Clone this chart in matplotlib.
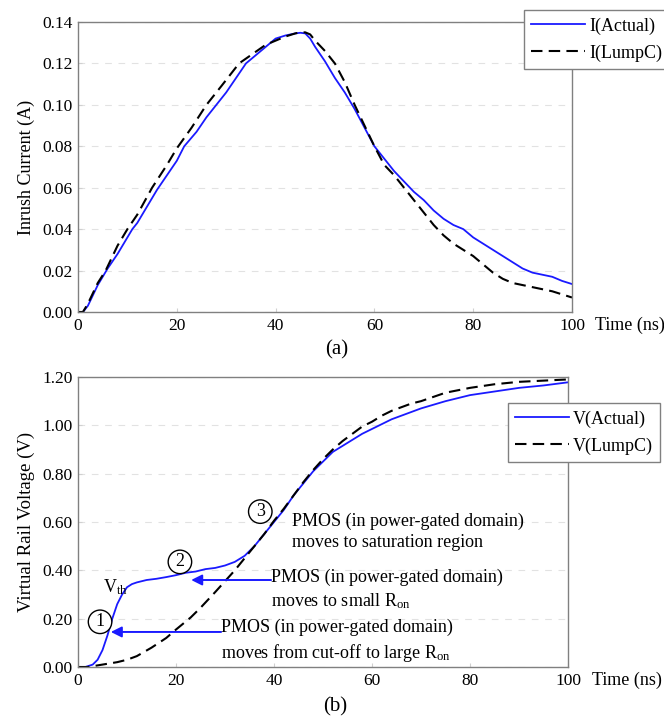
import matplotlib.pyplot as plt

plt.rcParams['font.family'] = ['Liberation Serif', 'DejaVu Serif']
plt.rcParams['mathtext.fontset'] = 'custom'
plt.rcParams['mathtext.rm'] = 'Liberation Serif'
plt.rcParams['mathtext.it'] = 'Liberation Serif'

# (a) inrush current
t_i_act = [0, 1, 2, 3, 4, 5, 6, 8, 10, 11, 12, 14, 16, 18, 20, 21.5, 24, 26, 28, 30, 32, 34,
           36, 38, 39, 40, 42, 44, 45, 46, 47, 48, 50, 52, 54, 56, 58, 60, 62, 64, 66, 68,
           70, 72, 74, 76, 78, 80, 82, 84, 86, 88, 90, 92, 94, 96, 98, 100]
i_act = [0, 0.0, 0.003, 0.008, 0.013, 0.017, 0.021, 0.028, 0.036, 0.040, 0.043, 0.051,
         0.059, 0.066, 0.073, 0.080, 0.087, 0.094, 0.100, 0.106, 0.113, 0.120, 0.124,
         0.128, 0.130, 0.132, 0.1335, 0.1345, 0.1348, 0.1345, 0.132, 0.128, 0.121, 0.113,
         0.106, 0.098, 0.089, 0.080, 0.074, 0.068, 0.063, 0.058, 0.054, 0.049, 0.045,
         0.042, 0.040, 0.036, 0.033, 0.030, 0.027, 0.024, 0.021, 0.019, 0.018, 0.017,
         0.015, 0.0135]
t_i_lump = [0, 1, 2, 3, 4, 5.6, 8, 10, 12, 15, 18, 20, 23, 26, 29, 32.6, 35, 38, 40, 42,
            44, 45, 46, 47, 48, 50, 52, 54, 56, 58, 60, 62, 64, 66, 68, 70, 72, 74, 76,
            78, 80, 82, 84, 86, 88, 90, 92, 94, 96, 98, 100]
i_lump = [0, 0.0, 0.004, 0.009, 0.014, 0.020, 0.032, 0.040, 0.047, 0.060, 0.071, 0.079,
          0.089, 0.100, 0.109, 0.120, 0.124, 0.129, 0.131, 0.133, 0.1345, 0.135, 0.135,
          0.134, 0.131, 0.126, 0.120, 0.111, 0.100, 0.090, 0.080, 0.071, 0.066, 0.060,
          0.054, 0.048, 0.042, 0.037, 0.033, 0.030, 0.027, 0.023, 0.019, 0.016, 0.014,
          0.013, 0.012, 0.011, 0.010, 0.0085, 0.007]

# (b) virtual rail voltage
t_v_act = [0, 1.5, 3, 4, 5, 6, 7, 8, 9, 10, 11, 12, 14, 16, 18, 20, 22, 24, 26, 28, 30,
           32, 34, 36, 38, 40, 42, 44, 46, 48, 50, 52, 54, 56, 58, 60, 62, 64, 66, 68,
           70, 75, 80, 85, 90, 95, 100]
v_act = [0, 0, 0.01, 0.03, 0.07, 0.13, 0.20, 0.26, 0.30, 0.33, 0.343, 0.35, 0.36, 0.365,
         0.372, 0.38, 0.39, 0.395, 0.405, 0.41, 0.42, 0.435, 0.46, 0.50, 0.55, 0.60, 0.65,
         0.71, 0.76, 0.81, 0.85, 0.89, 0.915, 0.94, 0.965, 0.985, 1.005, 1.025, 1.04,
         1.055, 1.07, 1.10, 1.125, 1.14, 1.155, 1.165, 1.178]
t_v_lump = [0, 2, 5, 8, 10, 12, 15, 18, 20, 23, 25, 28, 30, 32, 34, 36, 38, 40, 42, 44,
            46, 48, 50, 52, 54, 56, 58, 60, 62, 64, 66, 68, 70, 75, 80, 85, 90, 95, 100]
v_lump = [0, 0, 0.01, 0.02, 0.03, 0.045, 0.08, 0.12, 0.155, 0.205, 0.245, 0.31, 0.355,
          0.40, 0.45, 0.50, 0.55, 0.605, 0.655, 0.71, 0.765, 0.815, 0.86, 0.90, 0.935,
          0.965, 0.995, 1.015, 1.04, 1.06, 1.075, 1.09, 1.10, 1.135, 1.155, 1.17, 1.18,
          1.185, 1.19]

x_ticks = [0, 20, 40, 60, 80, 100]
i_ticks = [0.00, 0.02, 0.04, 0.06, 0.08, 0.10, 0.12, 0.14]
v_ticks = [0.00, 0.20, 0.40, 0.60, 0.80, 1.00, 1.20]

W, H = 664, 718
fig = plt.figure(figsize=(W / 100, H / 100), dpi=100)
ax1 = fig.add_axes([78 / W, 1 - 312 / H, (572 - 78) / W, (312 - 22) / H])
ax2 = fig.add_axes([78 / W, 1 - 667 / H, (568 - 78) / W, (667 - 377) / H])

blue = '#1a1aff'


def style(ax, yticks, ylabel, lsize):
    ax.set_xlim(0, 100)
    ax.set_ylim(yticks[0], yticks[-1])
    ax.set_xticks(x_ticks)
    ax.set_yticks(yticks)
    ax.set_yticklabels([f'{v:.2f}' for v in yticks])
    ax.tick_params(direction='in', length=3, color='#d0d0d0', labelsize=12.5, pad=4)
    ax.grid(axis='y', color='#e2e2e2', linestyle=(0, (6, 6)), linewidth=0.8)
    for s in ax.spines.values():
        s.set_color('#808080')
        s.set_linewidth(1.0)
    ax.set_ylabel(ylabel, fontsize=lsize, labelpad=5)


def legend(ax, x, y):
    leg = ax.legend(loc='upper left', bbox_to_anchor=(x / W, 1 - y / H),
                    bbox_transform=fig.transFigure, fontsize=13, frameon=True,
                    fancybox=False, edgecolor='#808080', framealpha=1, handlelength=3.0,
                    borderpad=0.4, labelspacing=0.55, handletextpad=0.2, borderaxespad=0)
    leg.get_frame().set_linewidth(1.0)


ax1.plot(t_i_act, i_act, color=blue, lw=1.3, label='I(Actual)')
ax1.plot(t_i_lump, i_lump, color='black', lw=1.5, ls=(0, (5.5, 3)), label='I(LumpC)')
style(ax1, i_ticks, 'Inrush Current (A)', 13)
legend(ax1, 524, 10)

ax2.plot(t_v_act, v_act, color=blue, lw=1.3, label='V(Actual)')
ax2.plot(t_v_lump, v_lump, color='black', lw=1.5, ls=(0, (5.5, 3)), label='V(LumpC)')
style(ax2, v_ticks, 'Virtual Rail Voltage (V)', 13.5)
legend(ax2, 508, 403)

# circled step numbers
for x, y, s in [(4.5, 0.187, '1'), (20.8, 0.435, '2'), (37.2, 0.643, '3')]:
    ax2.text(x, y, s, ha='center', va='center', fontsize=13,
             bbox=dict(boxstyle='circle,pad=0.18', fc='white', ec='black', lw=1.0))

ax2.text(7.6, 0.33, r'$\mathrm{V_{th}}$', ha='center', va='center', fontsize=13)

arrow = dict(arrowstyle='-|>', color=blue, lw=1.4, mutation_scale=16, shrinkA=0, shrinkB=0)
ax2.annotate('', xy=(6.7, 0.145), xytext=(29.2, 0.145), arrowprops=arrow)
ax2.annotate('', xy=(23.1, 0.36), xytext=(39.4, 0.36), arrowprops=arrow)

txt = dict(fontsize=13, ha='left', va='center', linespacing=1.35)
ax2.text(29.2, 0.105, 'PMOS (in power-gated domain)\nmoves from cut-off to large R$_{\\mathrm{on}}$', **txt)
ax2.text(39.4, 0.32, 'PMOS (in power-gated domain)\nmoves to small R$_{\\mathrm{on}}$', **txt)
ax2.text(43.7, 0.56, 'PMOS (in power-gated domain)\nmoves to saturation region', **txt)

fig.text(595 / W, 1 - 325 / H, 'Time (ns)', fontsize=13, ha='left', va='center')
fig.text(592 / W, 1 - 680 / H, 'Time (ns)', fontsize=13, ha='left', va='center')
fig.text(337 / W, 1 - 350 / H, '(a)', fontsize=15, ha='center', va='center')
fig.text(335 / W, 1 - 707 / H, '(b)', fontsize=15, ha='center', va='center')

fig.savefig('out.png', dpi=100)
